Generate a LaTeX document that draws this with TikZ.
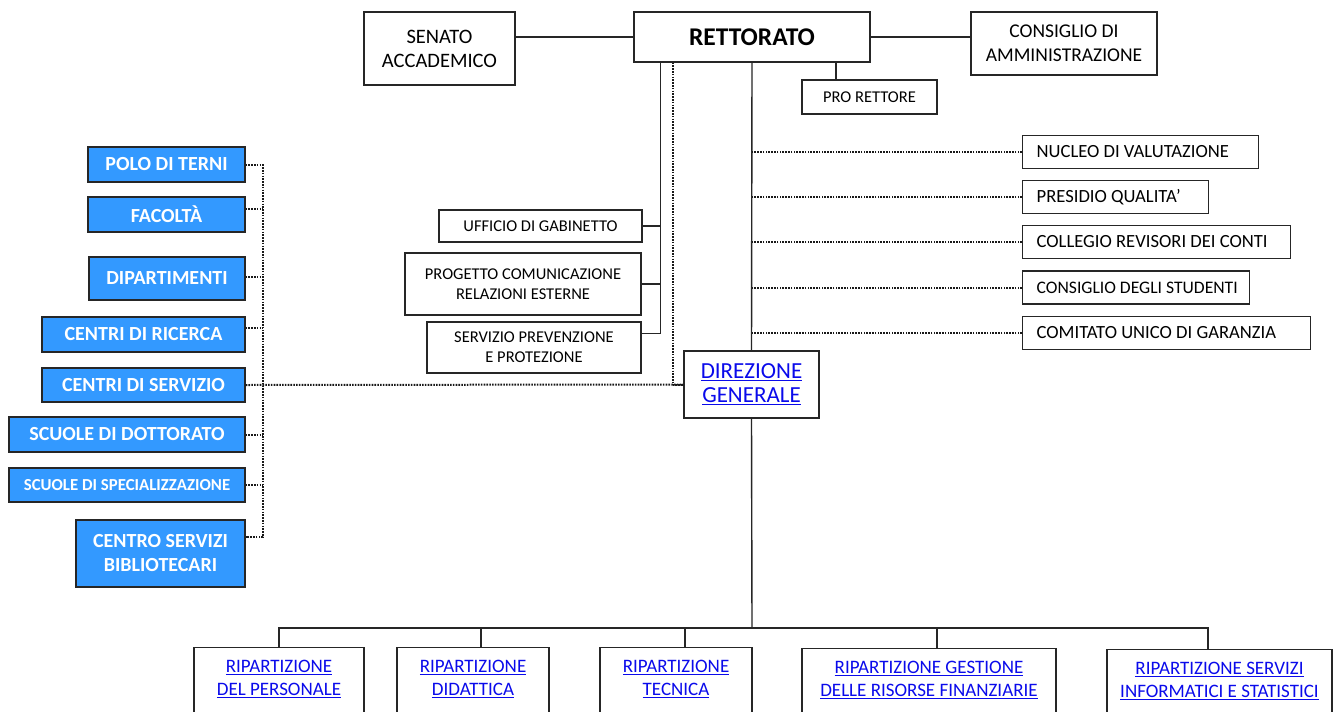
\documentclass[tikz,border=0pt]{standalone}
\usepackage{fontspec}
\setmainfont{Carlito}
\definecolor{polyblue}{RGB}{51,153,255}
\definecolor{linkblue}{RGB}{10,10,235}
\newcommand{\ulink}[1]{\setbox0\hbox{#1}\rlap{\rule[-2.4pt]{\wd0}{1.1pt}}\box0}

\begin{document}
\begin{tikzpicture}[x=1pt,y=-1pt,
  box/.style={draw=black!85,line width=1.3pt,fill=white,inner sep=0pt,align=center,
    font=\fontsize{19.5}{24}\selectfont},
  small box/.style={box,font=\fontsize{16.5}{20}\selectfont},
  blue box/.style={box,fill=polyblue,text=white,font=\fontsize{20}{24}\selectfont\bfseries},
  side box/.style={box,anchor=west,minimum height=33pt,inner xsep=14pt,align=flush left,
    font=\fontsize{18.6}{23}\selectfont},
  rip box/.style={box,anchor=north,inner ysep=13pt,text depth=70pt,text=linkblue,
    font=\fontsize{19}{22.7}\selectfont},
  line/.style={line width=1.4pt,draw=black!85},
  dots/.style={line width=2pt,draw=black!90,dash pattern=on 1.6pt off 1.2pt}]

  \useasboundingbox[fill=white] (0,0) rectangle (1333,712);

  \node[box,minimum width=236pt,minimum height=50pt,font=\fontsize{25.5}{30}\selectfont\bfseries] (ret) at (752,37) {RETTORATO};
  \node[box,minimum width=151pt,minimum height=73pt,font=\fontsize{20.5}{24}\selectfont] (sen) at (439.5,48.5) {SENATO\\ACCADEMICO};
  \node[box,minimum width=186pt,minimum height=63pt] (cda) at (1064,43.5) {CONSIGLIO DI\\AMMINISTRAZIONE};
  \node[small box,minimum width=135pt,minimum height=34pt] (pro) at (869.5,97) {PRO RETTORE};

  \node[small box,minimum width=203pt,minimum height=32pt] (ug) at (540.5,226) {UFFICIO DI GABINETTO};
  \node[small box,minimum width=236pt,minimum height=62pt] (pc) at (523,284) {PROGETTO COMUNICAZIONE\\RELAZIONI ESTERNE};
  \node[small box,minimum width=214pt,minimum height=51pt] (spp) at (534,347.5) {SERVIZIO PREVENZIONE\\E PROTEZIONE};
  \node[box,minimum width=135pt,minimum height=67pt,text=linkblue,font=\fontsize{23}{24}\selectfont] (dg) at (751.5,384.5) {\ulink{DIREZIONE}\\\ulink{GENERALE}};

  \node[side box,text width=208pt] (nv) at (1022,152) {NUCLEO DI VALUTAZIONE};
  \node[side box,text width=158pt] (pq) at (1022,197) {PRESIDIO QUALITA’};
  \node[side box,text width=240pt] (crc) at (1022,242) {\mbox{COLLEGIO REVISORI DEI CONTI}};
  \node[side box,text width=199pt,font=\fontsize{17.6}{23}\selectfont] (cds) at (1022,287.5) {\mbox{CONSIGLIO DEGLI STUDENTI}};
  \node[side box,text width=260pt] (cug) at (1022,333) {COMITATO UNICO DI GARANZIA};

  \node[blue box,minimum width=157pt,minimum height=35pt] (polo) at (166.5,164.5) {POLO DI TERNI};
  \node[blue box,minimum width=157pt,minimum height=35pt] (fac) at (166.5,214.5) {FACOLTÀ};
  \node[blue box,minimum width=156pt,minimum height=43pt] (dip) at (167,278.5) {DIPARTIMENTI};
  \node[blue box,minimum width=203pt,minimum height=35pt] (cr) at (143.5,334.5) {CENTRI DI RICERCA};
  \node[blue box,minimum width=203pt,minimum height=34pt] (cs) at (143.5,385) {CENTRI DI SERVIZIO};
  \node[blue box,minimum width=236pt,minimum height=35pt] (dott) at (127,434.5) {SCUOLE DI DOTTORATO};
  \node[blue box,minimum width=236pt,minimum height=34pt,font=\fontsize{16.8}{20}\selectfont\bfseries] (spec) at (127,485) {SCUOLE DI SPECIALIZZAZIONE};
  \node[blue box,minimum width=169pt,minimum height=67pt] (cbib) at (160.5,553.5) {CENTRO SERVIZI\\BIBLIOTECARI};

  \node[rip box,minimum width=170pt] (rp1) at (279,647) {\ulink{RIPARTIZIONE}\\\ulink{DEL PERSONALE}};
  \node[rip box,minimum width=152pt] (rp2) at (473,647) {\ulink{RIPARTIZIONE}\\\ulink{DIDATTICA}};
  \node[rip box,minimum width=152pt] (rp3) at (676,647) {\ulink{RIPARTIZIONE}\\\ulink{TECNICA}};
  \node[rip box,minimum width=254pt] (rp4) at (929,648) {\ulink{RIPARTIZIONE GESTIONE}\\\ulink{DELLE RISORSE FINANZIARIE}};
  \node[rip box,minimum width=225pt] (rp5) at (1219.5,649) {\ulink{RIPARTIZIONE SERVIZI}\\\ulink{INFORMATICI E STATISTICI}};

  \draw[line] (ret.west) -- (ret.west -| sen.east);
  \draw[line] (ret.east) -- (ret.east -| cda.west);
  \draw[line] ([xshift=-33.5pt]pro.north) -- +(0,18pt);
  \draw[line] (ret.south) -- (dg.north);

  \coordinate (brk) at ([xshift=-91.5pt]ret.south);
  \draw[line] (brk) |- ([yshift=14pt]spp.east);
  \draw[line] (ug.east) -- (ug.east -| brk);
  \draw[line] (pc.east) -- (pc.east -| brk);

  \coordinate (dv) at ([xshift=-79.5pt]ret.south);
  \draw[dots] (dv) |- (dg.west);
  \draw[dots] (cs.east) -- (dg.west);

  \foreach \n in {nv,pq,crc,cds,cug}
    \draw[dots] (\n.west) -- (\n.west -| ret.south);

  \coordinate (cbl) at ([yshift=16.5pt]cbib.east);
  \draw[dots] (polo.east) -- ++(17pt,0) |- (cbl);
  \foreach \n/\s in {fac/5.5,dip/1.5,cr/6.5,dott/0,spec/0}
    \draw[dots] ([yshift=\s pt]\n.east) -- ++(17pt,0);

  \coordinate (bus) at (752,628);
  \draw[line] (dg.south) -- (bus);
  \foreach \n/\s in {rp1/0,rp2/8,rp3/9,rp4/8,rp5/-11.5}
    \draw[line] ([xshift=\s pt]\n.north) |- (bus);
\end{tikzpicture}
\end{document}
